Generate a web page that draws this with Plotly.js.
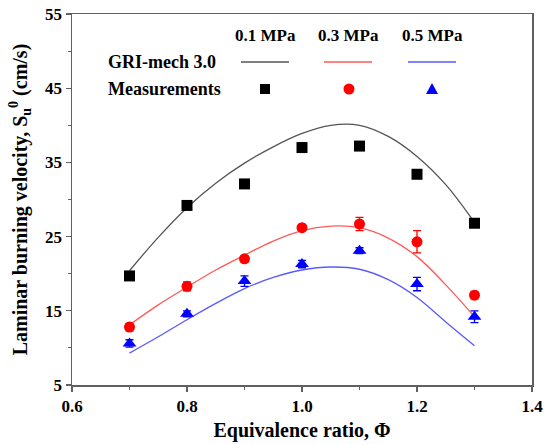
<!DOCTYPE html>
<html><head><meta charset="utf-8">
<script src="https://cdn.plot.ly/plotly-3.0.1.min.js"></script>
<style>html,body{margin:0;padding:0;background:#fff}#chart{width:552px;height:444px}</style>
</head><body><div id="chart"></div>
<script>
// Measurements
const phi = [0.7, 0.8, 0.9, 1.0, 1.1, 1.2, 1.3];
const meas01 = [19.7, 29.2, 32.1, 37.0, 37.2, 33.4, 26.8];
const err01  = [0.5, 0.4, 0.4, 0.6, 0.4, 0.4, 0.4];
const meas03 = [12.8, 18.3, 22.0, 26.2, 26.7, 24.3, 17.1];
const err03  = [0.5, 0.6, 0.4, 0.3, 0.9, 1.5, 0.5];
const meas05 = [10.6, 14.6, 19.0, 21.3, 23.1, 18.6, 14.2];
const err05  = [0.5, 0.4, 0.7, 0.5, 0.4, 0.9, 0.8];
// GRI-mech 3.0 predictions
const phiModel = [0.7, 0.75, 0.8, 0.85, 0.9, 0.95, 1.0, 1.05, 1.1, 1.15, 1.2, 1.25, 1.3];
const gri01 = [20.4, 24.9, 28.9, 32.2, 34.9, 37.1, 38.9, 40.0, 40.0, 38.5, 35.8, 32.0, 26.9];
const gri03 = [13.1, 15.8, 18.2, 20.5, 22.5, 24.4, 25.8, 26.4, 26.2, 24.8, 22.3, 18.5, 14.2];
const gri05 = [9.3, 11.5, 13.8, 16.0, 18.0, 19.5, 20.5, 20.9, 20.6, 19.2, 16.8, 13.5, 10.3];
const xTicks = [0.6, 0.8, 1.0, 1.2, 1.4];
const xTickText = ['0.6', '0.8', '1.0', '1.2', '1.4'];
const yTicks = [5, 15, 25, 35, 45, 55];
const pressures = ['0.1 MPa', '0.3 MPa', '0.5 MPa'];

const F = 'Liberation Serif, Times New Roman, serif';
const lineCols = ['#555555', '#ff5a5a', '#5a5aff'];
const markCols = ['#000000', '#ff0000', '#0000ff'];
const symbols = ['square', 'circle', 'triangle-up'];

const traces = [];
[gri01, gri03, gri05].forEach((g, i) => {
  traces.push({x: phiModel, y: g, type: 'scatter', mode: 'lines', line: {color: lineCols[i], width: 1.3, shape: 'spline', smoothing: 1}, showlegend: false, hoverinfo: 'skip'});
});
[[meas01, err01], [meas03, err03], [meas05, err05]].forEach((m, i) => {
  traces.push({x: phi, y: m[0], type: 'scatter', mode: 'markers',
    marker: {symbol: symbols[i], color: markCols[i], size: i === 2 ? 12 : 11},
    error_y: {type: 'data', array: m[1], visible: true, color: markCols[i], thickness: 1.3, width: 4},
    showlegend: false});
});

// legend built from annotations/shapes in paper coordinates
const px = v => (v - 72) / 460;
const py = v => (385 - v) / 371;
const cols = [265, 348, 432];
const annotations = [];
const shapes = [];
pressures.forEach((p, i) => {
  annotations.push({xref: 'paper', yref: 'paper', x: px(cols[i]), y: py(35), text: '<b>' + p + '</b>', showarrow: false, font: {family: F, size: 17, color: '#000'}, xanchor: 'center', yanchor: 'middle'});
  shapes.push({type: 'line', xref: 'paper', yref: 'paper', x0: px(cols[i] - 24), x1: px(cols[i] + 24), y0: py(62), y1: py(62), line: {color: lineCols[i], width: 1.6}});
});
annotations.push({xref: 'paper', yref: 'paper', x: px(106), y: py(62), text: '<b>GRI-mech 3.0</b>', showarrow: false, font: {family: F, size: 18, color: '#000'}, xanchor: 'left', yanchor: 'middle'});
annotations.push({xref: 'paper', yref: 'paper', x: px(106), y: py(89), text: '<b>Measurements</b>', showarrow: false, font: {family: F, size: 18, color: '#000'}, xanchor: 'left', yanchor: 'middle'});
// legend markers
shapes.push({type: 'rect', xref: 'paper', yref: 'paper', x0: px(265 - 5), x1: px(265 + 5), y0: py(94), y1: py(84), fillcolor: '#000', line: {width: 0}});
shapes.push({type: 'circle', xref: 'paper', yref: 'paper', x0: px(349 - 5.5), x1: px(349 + 5.5), y0: py(94.5), y1: py(83.5), fillcolor: '#ff0000', line: {width: 0}});
shapes.push({type: 'path', xref: 'paper', yref: 'paper', path: 'M ' + px(426) + ' ' + py(94) + ' L ' + px(438) + ' ' + py(94) + ' L ' + px(432) + ' ' + py(83) + ' Z', fillcolor: '#0000ff', line: {width: 0}});

const axisCommon = {showline: true, linecolor: '#606060', linewidth: 1.5, mirror: true, ticks: 'outside', ticklen: 5, tickwidth: 1.3, tickcolor: '#606060', showgrid: false, zeroline: false,
  tickfont: {family: F, size: 17, color: '#000', weight: 'bold'}};

const layout = {
  width: 552, height: 444,
  margin: {l: 72, r: 20, t: 14, b: 59},
  paper_bgcolor: '#fff', plot_bgcolor: '#fff',
  font: {family: F},
  xaxis: Object.assign({}, axisCommon, {range: [0.6, 1.4], tickvals: xTicks, ticktext: xTickText,
    minor: {tickvals: [0.7, 0.9, 1.1, 1.3], ticks: 'outside', ticklen: 3, tickcolor: '#606060', tickwidth: 1.2},
    title: {text: '<b>Equivalence ratio, Φ</b>', font: {family: F, size: 20, color: '#000'}, standoff: 8}}),
  yaxis: Object.assign({}, axisCommon, {range: [5, 55], tickvals: yTicks,
    minor: {tickvals: [10, 20, 30, 40, 50], ticks: 'outside', ticklen: 3, tickcolor: '#606060', tickwidth: 1.2},
    title: {text: '<b>Laminar burning velocity, S<sub>u</sub><sup>0</sup> (cm/s)</b>', font: {family: F, size: 20, color: '#000'}, standoff: 12}}),
  annotations: annotations,
  shapes: shapes
};
Plotly.newPlot('chart', traces, layout, {staticPlot: true, displayModeBar: false});
</script></body></html>
